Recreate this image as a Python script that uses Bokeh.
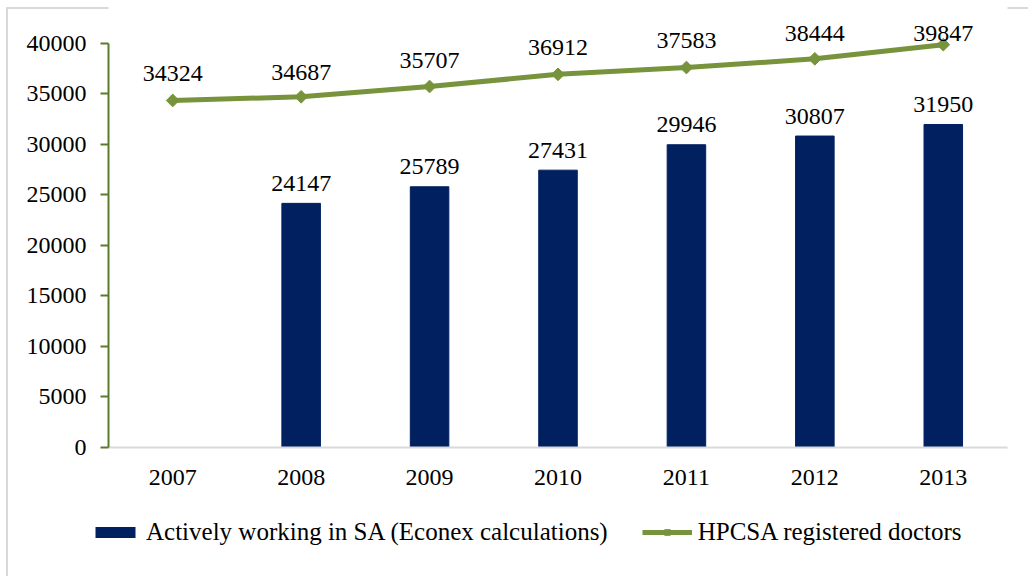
import math
from bokeh.plotting import figure
from bokeh.models import (ColumnDataSource, FactorRange, Range1d, FixedTicker,
                          Legend, LegendItem)
from bokeh.core.properties import value
from bokeh.embed import file_html
from bokeh.resources import INLINE

years = ["2007", "2008", "2009", "2010", "2011", "2012", "2013"]
active = [None, 24147, 25789, 27431, 29946, 30807, 31950]
registered = [34324, 34687, 35707, 36912, 37583, 38444, 39847]
y_ticks = [0, 5000, 10000, 15000, 20000, 25000, 30000, 35000, 40000]

# label placement (pixels above the point), styling only
LINE_LABEL_DY = [27, 24, 26, 27, 27, 25, 11]
BAR_LABEL_DY = 20

FONT = "Liberation Serif"
FS = "24px"
NAVY = "#002060"
GREEN = "#77933C"
AXIS_GREEN = "#5B7A2E"
FRAME_GREY = "#d9d9d9"

p = figure(x_range=FactorRange(factors=years), y_range=Range1d(0, 43620),
           width=1028, height=500, output_backend="svg", toolbar_location=None,
           min_border_left=108, min_border_right=21, min_border_top=6,
           min_border_bottom=53)
p.outline_line_color = None
p.xgrid.grid_line_color = None
p.ygrid.grid_line_color = None
p.border_fill_alpha = 0
p.styles = {"background": (f"linear-gradient({FRAME_GREY},{FRAME_GREY}) 6px 7px / 2px 100% no-repeat, "
                           f"linear-gradient({FRAME_GREY},{FRAME_GREY}) 6px 7px / 100% 2px no-repeat, white")}

bar_src = ColumnDataSource(dict(x=years, top=[float("nan") if v is None else v for v in active]))
bars = p.vbar(x="x", top="top", width=0.3, source=bar_src, fill_color=NAVY, line_color=NAVY)

lab_src = ColumnDataSource(dict(x=[y for y, v in zip(years, active) if v is not None],
                                y=[v for v in active if v is not None],
                                t=[str(v) for v in active if v is not None]))
p.text(x="x", y="y", text="t", source=lab_src, text_font=value(FONT), text_font_size=FS,
       text_align="center", text_baseline="alphabetic", y_offset=-BAR_LABEL_DY,
       text_color="black")

line_src = ColumnDataSource(dict(x=years, y=registered, t=[str(v) for v in registered],
                                 dy=[-d for d in LINE_LABEL_DY]))
ln = p.line(x="x", y="y", source=line_src, line_color=GREEN, line_width=5)
mk = p.scatter(x="x", y="y", source=line_src, marker="square", angle=math.pi / 4, size=9,
               fill_color=GREEN, line_color=GREEN)
p.text(x="x", y="y", text="t", source=line_src, text_font=value(FONT), text_font_size=FS,
       text_align="center", text_baseline="alphabetic", y_offset="dy", text_color="black")

# axes
p.yaxis.bounds = (0, 40000)
p.yaxis.ticker = FixedTicker(ticks=y_ticks)
p.yaxis.axis_line_color = AXIS_GREEN
p.yaxis.axis_line_width = 2
p.yaxis.major_tick_line_color = AXIS_GREEN
p.yaxis.major_tick_line_width = 2
p.yaxis.major_tick_out = 8
p.yaxis.major_tick_in = 0
p.yaxis.minor_tick_line_color = None
p.yaxis.major_label_standoff = 14
p.yaxis.major_label_text_font = FONT
p.yaxis.major_label_text_font_size = FS
p.yaxis.major_label_text_color = "black"

p.xaxis.axis_line_color = FRAME_GREY
p.xaxis.axis_line_width = 2
p.xaxis.major_tick_line_color = None
p.xaxis.minor_tick_line_color = None
p.xaxis.major_label_standoff = 16
p.xaxis.major_label_text_font = FONT
p.xaxis.major_label_text_font_size = FS
p.xaxis.major_label_text_color = "black"

# legend strip below the chart: same series, kept outside its visible range
pl = figure(x_range=FactorRange(factors=years), y_range=Range1d(1e6, 1e6 + 1),
            width=1028, height=76, output_backend="svg", toolbar_location=None,
            x_axis_location=None, y_axis_location=None, min_border=0,
            min_border_left=0, min_border_right=0, min_border_top=0, min_border_bottom=0)
pl.outline_line_color = None
pl.grid.visible = False
pl.border_fill_alpha = 0
pl.background_fill_alpha = 0
pl.styles = {"background": (f"linear-gradient({FRAME_GREY},{FRAME_GREY}) 6px 0px / 2px 100% no-repeat, white")}
lbar = pl.vbar(x="x", top="top", width=0.3, source=bar_src, fill_color=NAVY, line_color=None)
lln = pl.line(x="x", y="y", source=line_src, line_color=GREEN, line_width=5)
lmk = pl.scatter(x="x", y="y", source=line_src, marker="square", angle=math.pi / 4, size=9,
                 fill_color=GREEN, line_color=GREEN)

legend = Legend(items=[LegendItem(label="Actively working in SA (Econex calculations)", renderers=[lbar]),
                       LegendItem(label="HPCSA registered doctors", renderers=[lln, lmk])],
                orientation="horizontal", location=(90, 30),
                glyph_width=50, glyph_height=14, label_standoff=6, spacing=34,
                padding=0, margin=0, border_line_color=None, background_fill_alpha=0,
                label_text_font=FONT, label_text_font_size="25px", label_text_color="black")
pl.add_layout(legend, "center")

open("out.html", "w").write(file_html((p, pl), INLINE))
